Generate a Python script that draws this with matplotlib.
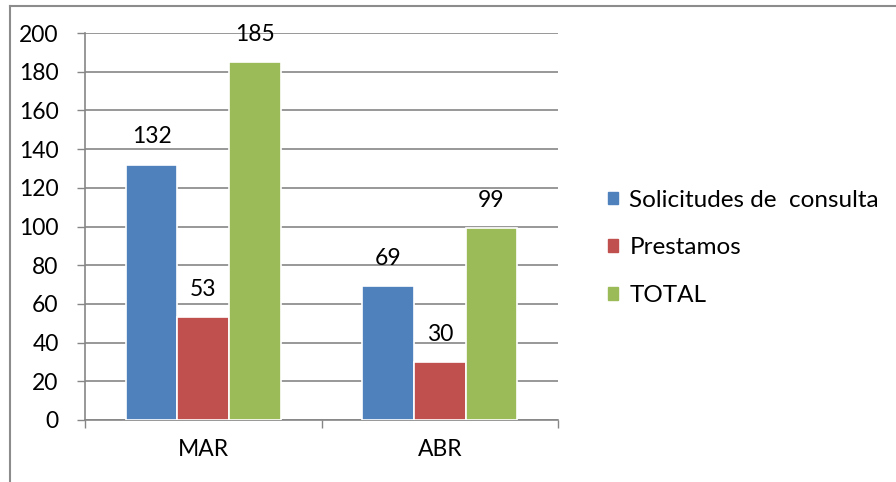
import matplotlib
matplotlib.use('Agg')
import matplotlib.pyplot as plt
from matplotlib.lines import Line2D
import numpy as np

# Data
months = ['MAR', 'ABR']
series_names = ['Solicitudes de  consulta', 'Prestamos', 'TOTAL']
solicitudes = [132, 69]
prestamos = [53, 30]
total = [185, 99]
colors = ['#4F81BD', '#C0504D', '#9BBB59']

plt.rcParams['font.family'] = ['Lato', 'DejaVu Sans']
FS = 16.5

fig = plt.figure(figsize=(8.96, 4.82), dpi=100)
ax = fig.add_axes([85 / 896, 1 - 420 / 482, 473 / 896, 387 / 482])

x = np.arange(len(months))
width = 0.218
values = [solicitudes, prestamos, total]
for i, (name, vals) in enumerate(zip(series_names, values)):
    pos = x + (i - 1) * width
    bars = ax.bar(pos, vals, width, color=colors[i], label=name,
                  edgecolor='white', linewidth=1.2, zorder=3)
    for b, v in zip(bars, vals):
        ax.annotate(str(v), (b.get_x() + b.get_width() / 2, v),
                    xytext=(0, 20), textcoords='offset points',
                    ha='center', va='center', fontsize=FS, zorder=4)

ax.set_xlim(-0.5, 1.5)
ax.set_ylim(0, 200)
ax.set_yticks(range(0, 201, 20))
ax.set_xticks(x)
ax.set_xticklabels(months)
ax.set_xticks([-0.5, 0.5, 1.5], minor=True)
ax.tick_params(axis='x', which='major', length=0, labelsize=FS, pad=14)
ax.tick_params(axis='x', which='minor', length=6, color='#868686', width=1)
ax.tick_params(axis='y', length=6, color='#868686', width=1, labelsize=FS, pad=13)

ax.grid(axis='y', color='#868686', linewidth=1.2, zorder=0)
ax.set_axisbelow(True)
for s in ['top', 'right']:
    ax.spines[s].set_visible(False)
for s in ['left', 'bottom']:
    ax.spines[s].set_color('#868686')
    ax.spines[s].set_linewidth(1.2)

handles = [plt.Rectangle((0, 0), 1, 1, color=c) for c in colors]
fig.legend(handles, series_names, loc='center left',
           bbox_to_anchor=(586 / 896, 1 - 248 / 482), frameon=False,
           fontsize=17.5, handlelength=0.43, handleheight=0.43,
           handletextpad=0.45, labelspacing=1.1)

# outer chart frame (only top and left visible in the crop)
fig.add_artist(Line2D([10 / 896, 1], [1 - 6 / 482, 1 - 6 / 482],
                      transform=fig.transFigure, color='#8c8c8c', linewidth=1.5))
fig.add_artist(Line2D([10 / 896, 10 / 896], [0, 1 - 6 / 482],
                      transform=fig.transFigure, color='#8c8c8c', linewidth=1.5))

plt.savefig('out.png', dpi=100)
